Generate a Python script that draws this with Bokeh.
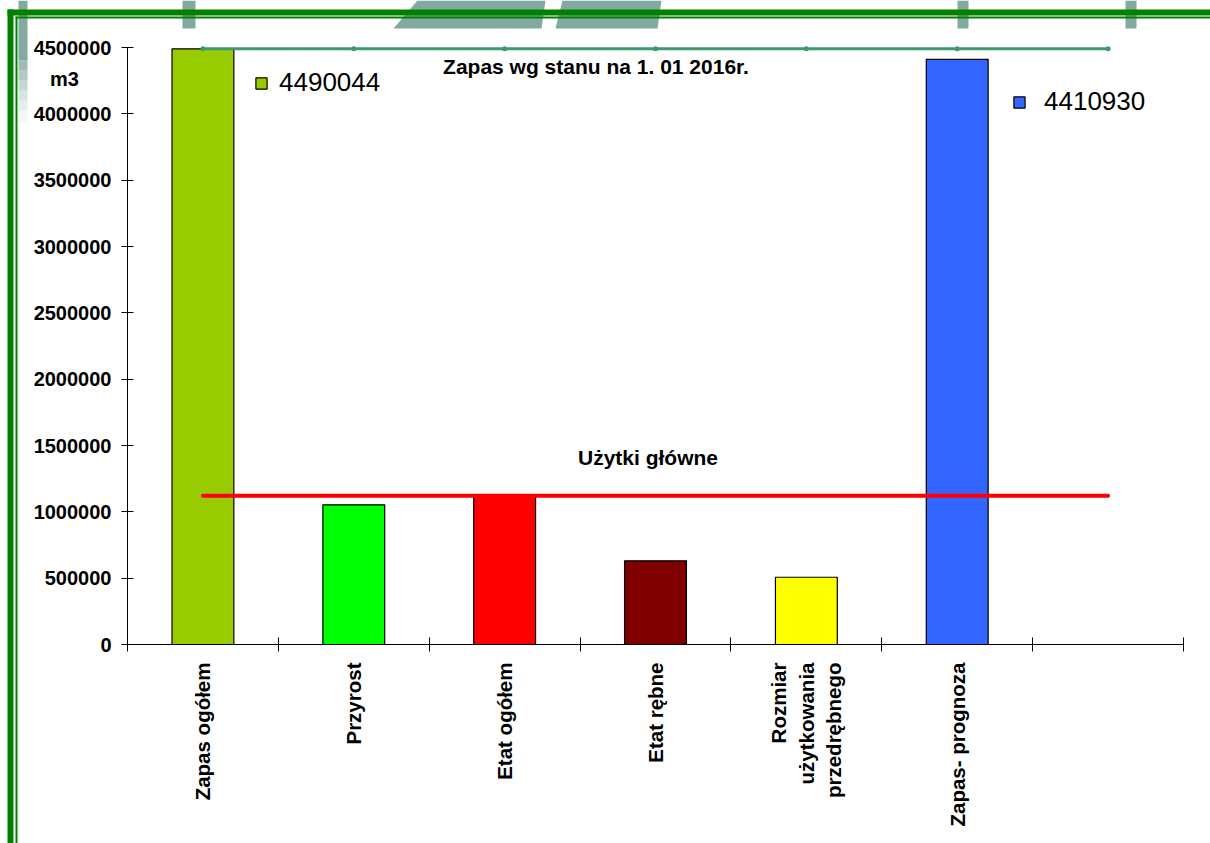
from math import pi
from bokeh.plotting import figure
from bokeh.models import (Range1d, LinearAxis, FixedTicker, BasicTickFormatter, Label,
                          BoxAnnotation, PolyAnnotation, Legend, LegendItem, ColumnDataSource)
from bokeh.embed import file_html
from bokeh.resources import INLINE

# ---------------- data ----------------
categories = ["Zapas ogółem", "Przyrost", "Etat ogółem", "Etat rębne",
              "Rozmiar\nużytkowania\nprzedrębnego", "Zapas- prognoza"]
values = [4490044, 1053000, 1122000, 631000, 507000, 4410930]
bar_colors = ["#99cc00", "#00ff00", "#ff0000", "#800000", "#ffff00", "#3366ff"]
n_slots = 7  # six categories + one empty slot on the category axis
zapas_line = [4490044, 4490044, 4490044, 4490044, 4490044, 4490044, 4490044]
uzytki_line = [1122000, 1122000, 1122000, 1122000, 1122000, 1122000, 1122000]
y_ticks = [0, 500000, 1000000, 1500000, 2000000, 2500000, 3000000, 3500000, 4000000, 4500000]
legend_values = ["4490044", "4410930"]
line_labels = ["Zapas wg stanu na 1. 01 2016r.", "Użytki główne"]
unit_label = "m3"

FONT = "Liberation Sans"

# ---------------- geometry (pixels of the page) ----------------
W, H = 1210, 843
AX_L, AX_R, AX_T, AX_B = 127, 1183, 47, 644
Y_MAX = y_ticks[-1]
PX_X = (AX_R - AX_L) / n_slots
PX_Y = (AX_B - AX_T) / Y_MAX
X0 = -AX_L / PX_X
X1 = X0 + W / PX_X
Y0 = -(H - AX_B) / PX_Y
Y1 = Y0 + H / PX_Y


def px2x(sx):
    return X0 + sx / PX_X


def px2y(sy):
    return Y1 - sy / PX_Y


centers = [i + 0.5 for i in range(len(categories))]
slot_centers = [i + 0.5 for i in range(n_slots)]
boundaries = list(range(n_slots + 1))

p = figure(width=W, height=H,
           x_range=Range1d(X0, X1), y_range=Range1d(Y0, Y1),
           x_axis_type=None, y_axis_type=None,
           toolbar_location=None, output_backend="svg",
           min_border=0, min_border_left=0, min_border_right=0,
           min_border_top=0, min_border_bottom=0,
           outline_line_color=None, background_fill_color="white",
           border_fill_color="white")


def box(l, r, t, b, color, alpha=1.0):
    p.add_layout(BoxAnnotation(left=px2x(l), right=px2x(r), top=px2y(t), bottom=px2y(b),
                               fill_color=color, fill_alpha=alpha, line_color=None,
                               line_alpha=0))


# ---------------- decorations (background frame) ----------------
GRAY = "#82aaa0"
fade = [(0, 60, 1.0), (60, 70, 0.8), (70, 80, 0.62), (80, 90, 0.46),
        (90, 100, 0.32), (100, 110, 0.2), (110, 122, 0.09)]
for t, b, a in fade:
    box(18, 27, t, b, GRAY, a)
for l, r in [(182, 195), (957, 968), (1125, 1136)]:
    box(l, r, 0, 28, GRAY)
for xs, ys in [([417, 545, 541, 393], [0, 0, 28, 28]),
               ([562, 661, 657, 555], [0, 0, 28, 28])]:
    p.add_layout(PolyAnnotation(xs=[px2x(v) for v in xs], ys=[px2y(v) for v in ys],
                                fill_color=GRAY, fill_alpha=1, line_color=None,
                                line_alpha=0))
GREEN = "#008000"
for l, r, t, b in [(7, W, 9, 15), (7, 13, 9, H), (15, W, 16, 18), (15, 17, 16, H)]:
    box(l, r, t, b, GREEN)

# ---------------- glyphs ----------------
src = ColumnDataSource(dict(x=centers, top=values, color=bar_colors))
bars = p.vbar(x="x", top="top", bottom=0, width=0.41, source=src,
              fill_color="color", line_color="black", line_width=1.2)

p.line(slot_centers, zapas_line, line_color="#3c9a6e", line_width=3)
p.scatter(slot_centers, zapas_line, size=5, fill_color="#3c9a6e", line_color=None)
p.line(slot_centers, uzytki_line, line_color="#ff0000", line_width=4, line_cap="round")

# ---------------- axes ----------------
yaxis = LinearAxis(ticker=FixedTicker(ticks=y_ticks),
                   formatter=BasicTickFormatter(use_scientific=False),
                   fixed_location=0, bounds=(0, Y_MAX),
                   major_tick_in=6, major_tick_out=6,
                   minor_tick_line_color=None,
                   major_label_standoff=10,
                   major_label_text_font=FONT, major_label_text_font_style="bold",
                   major_label_text_font_size="20px", major_label_text_color="black",
                   axis_line_color="black", major_tick_line_color="black")
p.add_layout(yaxis, "left")

xaxis = LinearAxis(ticker=FixedTicker(ticks=centers, minor_ticks=boundaries),
                   major_label_overrides={c: name for c, name in zip(centers, categories)},
                   fixed_location=0, bounds=(0, n_slots),
                   major_tick_in=0, major_tick_out=0, major_tick_line_color=None,
                   minor_tick_in=7, minor_tick_out=7, minor_tick_line_color="black",
                   major_label_orientation=pi / 2, major_label_standoff=11,
                   major_label_text_font=FONT, major_label_text_font_style="bold",
                   major_label_text_font_size="20.5px", major_label_text_color="black",
                   axis_line_color="black")
p.add_layout(xaxis, "below")

# ---------------- texts ----------------
p.add_layout(Label(x=px2x(595.5), y=px2y(66), text=line_labels[0], text_align="center",
                   text_baseline="middle", text_font=FONT, text_font_style="bold",
                   text_font_size="21px", text_color="black"))
p.add_layout(Label(x=px2x(647.5), y=px2y(456.5), text=line_labels[1], text_align="center",
                   text_baseline="middle", text_font=FONT, text_font_style="bold",
                   text_font_size="21px", text_color="black"))
p.add_layout(Label(x=px2x(64), y=px2y(78.5), text=unit_label,
                   text_align="center", text_baseline="middle", text_font=FONT,
                   text_font_style="bold", text_font_size="20px", text_color="black"))

# ---------------- legends (value boxes) ----------------
for idx, (txt, loc, stand) in enumerate([(legend_values[0], (254, 745), 11),
                                         (legend_values[1], (1012, 726), 18)]):
    bar_index = 0 if idx == 0 else len(categories) - 1
    leg = Legend(items=[LegendItem(label=txt, renderers=[bars], index=bar_index)],
                 location=loc, glyph_width=14, glyph_height=14,
                 label_text_font=FONT, label_text_font_size="26px",
                 label_text_color="black", label_standoff=stand,
                 padding=0, margin=0, spacing=0,
                 border_line_color=None, background_fill_alpha=0)
    p.add_layout(leg)

open("out.html", "w").write(file_html(p, INLINE))
